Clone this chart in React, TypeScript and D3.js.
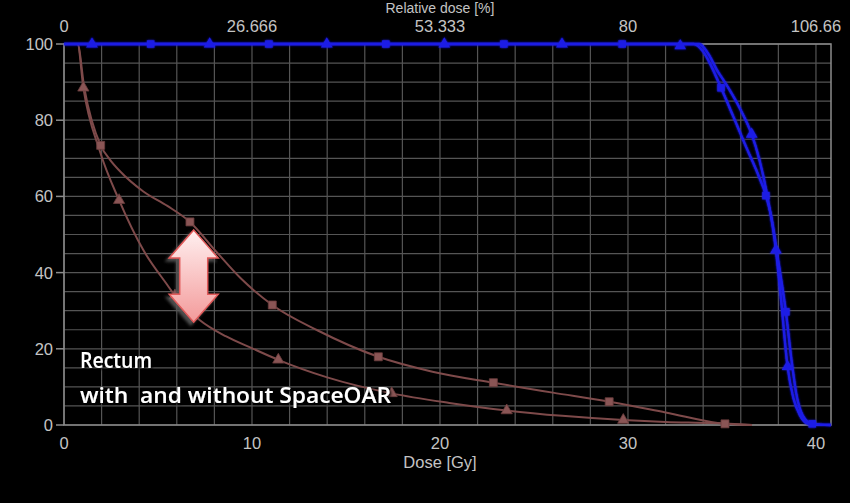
import React from "react";
import * as d3 from "d3";

// DVH: dose [Gy] vs volume [%]
const doseTicks = [0, 10, 20, 30, 40];
const relDoseLabels = ["0", "26.666", "53.333", "80", "106.66"];
const volumeTicks = [0, 20, 40, 60, 80, 100];

// target curves (blue)
const targetTriCurve = [
  [0, 100], [33.8, 100], [34.25, 97.6], [34.72, 93.3], [35.3, 88.8], [35.9, 83.6], [36.3, 79.6],
  [36.58, 76.3], [37.0, 69.5], [37.4, 60.5], [37.87, 45.9], [38.15, 32.5], [38.49, 15.3],
  [38.8, 7], [39.15, 2.5], [39.6, 0.3], [40.8, 0],
];
const targetSqCurve = [
  [0, 100], [33.5, 100], [34.0, 98], [34.45, 94], [34.95, 88.5], [35.6, 81], [36.3, 72.8],
  [36.9, 66], [37.34, 60.2], [37.65, 54], [38.0, 43], [38.4, 29.7], [38.7, 17], [38.95, 8.3],
  [39.3, 2.5], [39.8, 0.3], [40.8, 0],
];
const targetTriMarks = [
  [1.49, 100], [7.75, 100], [13.98, 100], [20.23, 100], [26.49, 100], [32.78, 99.5],
  [36.58, 76.3], [37.87, 45.9], [38.49, 15.3],
];
const targetSqMarks = [
  [4.61, 100], [10.9, 100], [17.12, 100], [23.4, 100], [29.69, 100],
  [34.95, 88.5], [37.34, 60.2], [38.4, 29.7], [39.8, 0.3],
];

// rectum curves (brown)
const rectumSqCurve = [
  [0, 100], [0.72, 100], [1.08, 88.5], [1.95, 73.4], [2.45, 69.6], [2.98, 66.6], [4.22, 61.3],
  [5.5, 57.5], [6.7, 53.3], [8.1, 45.5], [9.4, 38.5], [11.08, 31.5], [13.5, 24.8],
  [16.72, 17.9], [19.6, 14], [22.84, 11.1], [26, 8.5], [29.0, 6.1], [32, 3.3], [35.16, 0.3], [36.6, 0],
];
const rectumTriCurve = [
  [0, 100], [0.72, 100], [1.03, 88.5], [1.9, 72], [2.93, 59], [4.22, 45.9], [5.46, 37],
  [5.9, 34], [7.23, 27.5], [8.6, 23.3], [10.07, 20], [11.4, 17.1], [14, 12.5], [17.43, 8.3],
  [20.5, 5.8], [23.55, 3.8], [26.5, 2.4], [29.75, 1.3], [32, 0.8], [34.5, 0.5], [36.6, 0],
];
const rectumSqMarks = [
  [1.95, 73.4], [6.7, 53.3], [11.08, 31.5], [16.72, 17.9], [22.84, 11.1], [29.0, 6.1], [35.16, 0.3],
];
const rectumTriMarks = [
  [1.03, 88.5], [2.93, 59], [5.9, 34], [11.4, 17.1], [17.43, 8.3], [23.55, 3.8], [29.75, 1.3],
];

// arrow between the two rectum curves: dose, from / to volume
const arrowDose = 6.9;
const arrowSpan = [51.2, 27];

const W = 850;
const H = 503;
const BLUE = "#1c1ce6";
const BROWN = "#7e4a4a";
const BROWN_MARK = "#8a5555";

export default function App() {
  const x = d3.scaleLinear().domain([0, 40.8]).range([64, 831]);
  const y = d3.scaleLinear().domain([0, 100]).range([425, 44]);

  const line = d3.line<number[]>()
    .x((d) => x(d[0]))
    .y((d) => y(d[1]))
    .curve(d3.curveMonotoneX);

  const tri = d3.symbol().type(d3.symbolTriangle);
  const sq = d3.symbol().type(d3.symbolSquare);

  const gridX = d3.range(0, 41, 2);
  const gridY = d3.range(0, 101, 5);

  // arrow shape
  const ax = x(arrowDose);
  const at = y(arrowSpan[0]);
  const ab = y(arrowSpan[1]);
  const hl = 28, hw = 24.5, sw = 14;
  const arrowPath = [
    [ax, at], [ax + hw, at + hl], [ax + sw, at + hl], [ax + sw, ab - hl], [ax + hw, ab - hl],
    [ax, ab], [ax - hw, ab - hl], [ax - sw, ab - hl], [ax - sw, at + hl], [ax - hw, at + hl],
  ].map((p, i) => (i ? "L" : "M") + p[0] + "," + p[1]).join("") + "Z";

  const axisFont = "'Liberation Sans', Arial, sans-serif";

  return (
    <svg width={W} height={H} style={{ position: "absolute", left: 0, top: 0, display: "block" }}>
      <defs>
        <linearGradient id="arrowFill" x1="0" y1="0" x2="0" y2="1">
          <stop offset="0" stopColor="#fff0f0" />
          <stop offset="1" stopColor="#f39a9a" />
        </linearGradient>
        <filter id="arrowShadow" x="-50%" y="-50%" width="200%" height="200%">
          <feDropShadow dx="-3" dy="3" stdDeviation="1.5" floodColor="#555" floodOpacity="0.9" />
        </filter>
        <filter id="textShadow" x="-10%" y="-30%" width="120%" height="160%">
          <feDropShadow dx="1.5" dy="1.5" stdDeviation="1" floodColor="#000" floodOpacity="1" />
        </filter>
        <filter id="glow" x="-10%" y="-10%" width="120%" height="120%">
          <feGaussianBlur stdDeviation="1.2" result="b" />
          <feMerge>
            <feMergeNode in="b" />
            <feMergeNode in="SourceGraphic" />
          </feMerge>
        </filter>
      </defs>
      <rect width={W} height={H} fill="#000" />

      {/* grid */}
      <g stroke="#555" strokeWidth={1.2}>
        {gridX.map((d) => (
          <line key={"gx" + d} x1={x(d)} x2={x(d)} y1={y(0)} y2={y(100)} />
        ))}
        {gridY.map((d) => (
          <line key={"gy" + d} x1={x(0)} x2={x(40.8)} y1={y(d)} y2={y(d)} />
        ))}
      </g>
      {/* frame */}
      <g stroke="#8c8c8c" strokeWidth={1.5} fill="none">
        <rect x={x(0)} y={y(100)} width={x(40.8) - x(0)} height={y(0) - y(100)} />
        {volumeTicks.map((d) => (
          <line key={"yt" + d} x1={x(0) - 8} x2={x(0)} y1={y(d)} y2={y(d)} />
        ))}
      </g>

      {/* axis labels */}
      <g fill="#c4c4c4" fontFamily={axisFont} fontSize={16.5}>
        {volumeTicks.map((d) => (
          <text key={"yl" + d} x={x(0) - 11} y={y(d) + 6} textAnchor="end">{d}</text>
        ))}
        {doseTicks.map((d) => (
          <text key={"xl" + d} x={x(d)} y={449} textAnchor="middle">{d}</text>
        ))}
        {doseTicks.map((d, i) => (
          <text key={"tl" + d} x={x(d)} y={32} textAnchor="middle">{relDoseLabels[i]}</text>
        ))}
        <text x={x(20)} y={468} textAnchor="middle">Dose [Gy]</text>
        <text x={x(20)} y={13} textAnchor="middle" fontSize={14}>Relative dose [%]</text>
      </g>

      {/* rectum */}
      <g fill="none" stroke={BROWN} strokeWidth={2}>
        <path d={line(rectumSqCurve) || ""} />
        <path d={line(rectumTriCurve) || ""} />
      </g>
      <g fill={BROWN_MARK} stroke="#6a3c3c" strokeWidth={0.8}>
        {rectumSqMarks.map((d, i) => (
          <path key={"rs" + i} d={sq.size(64)() || ""} transform={`translate(${x(d[0])},${y(d[1])})`} />
        ))}
        {rectumTriMarks.map((d, i) => (
          <path key={"rt" + i} d={tri.size(55)() || ""} transform={`translate(${x(d[0])},${y(d[1])})`} />
        ))}
      </g>

      {/* target */}
      <g filter="url(#glow)">
        <g fill="none" stroke={BLUE} strokeWidth={2.4}>
          <path d={line(targetSqCurve) || ""} />
          <path d={line(targetTriCurve) || ""} />
        </g>
        <g fill={BLUE}>
          {targetSqMarks.map((d, i) => (
            <path key={"ts" + i} d={sq.size(56)() || ""} transform={`translate(${x(d[0])},${y(d[1])})`} />
          ))}
          {targetTriMarks.map((d, i) => (
            <path key={"tt" + i} d={tri.size(60)() || ""} transform={`translate(${x(d[0])},${y(d[1])})`} />
          ))}
        </g>
      </g>

      {/* annotation */}
      <path d={arrowPath} fill="url(#arrowFill)" stroke="#e05a5a" strokeWidth={1.5} strokeLinejoin="miter" filter="url(#arrowShadow)" />
      <g fill="#fff" fontFamily="'Open Sans', 'Noto Sans', sans-serif" fontWeight={600} fontSize={21} filter="url(#textShadow)">
        <text x={80} y={368} textLength={72} lengthAdjust="spacingAndGlyphs">Rectum</text>
        <text x={80} y={403} textLength={311} lengthAdjust="spacingAndGlyphs" style={{ whiteSpace: "pre" }}>with  and without SpaceOAR</text>
      </g>
    </svg>
  );
}
